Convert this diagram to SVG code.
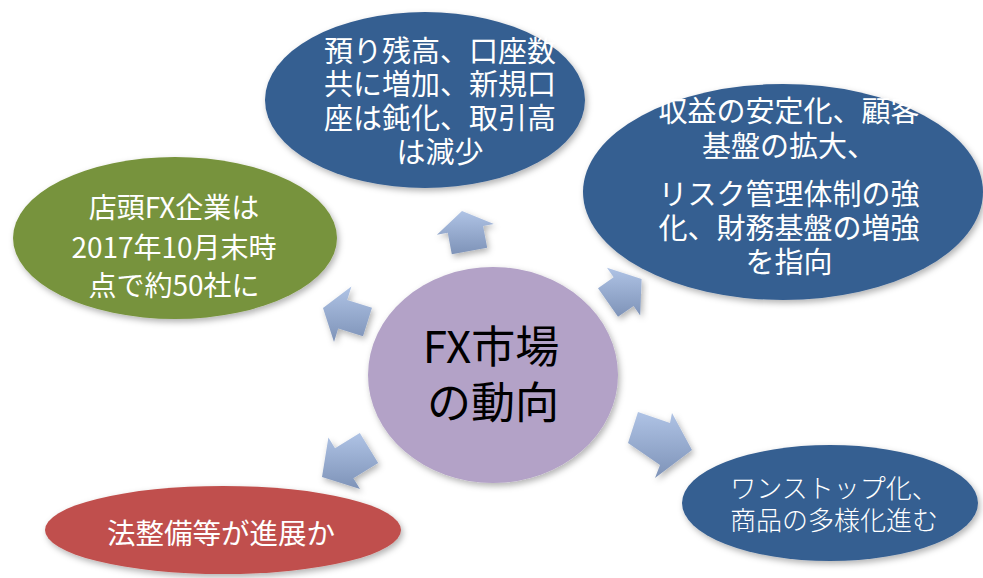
<svg xmlns="http://www.w3.org/2000/svg" width="983" height="578" viewBox="0 0 983 578">
<defs>
<linearGradient id="ag" x1="0" y1="0" x2="0" y2="1">
<stop offset="0" stop-color="#AFC3E5"/>
<stop offset="1" stop-color="#7E93B8"/>
</linearGradient>
<filter id="sh" x="-10%" y="-10%" width="125%" height="130%">
<feDropShadow dx="2" dy="3" stdDeviation="3" flood-color="#000" flood-opacity="0.3"/>
</filter>
<style>
.blue{fill:#365F91;filter:url(#sh)}
.arr{fill:url(#ag);filter:url(#sh)}
.t{font-family:"Noto Sans CJK JP","Noto Sans",sans-serif;fill:#fff;text-anchor:middle}
.c{font-family:"Noto Sans CJK JP","Noto Sans",sans-serif;fill:#000;text-anchor:middle;font-size:44px}
</style>
</defs>
<rect width="983" height="578" fill="#fff"/>
<g id="connectors">
<polygon class="arr" points="451.8,254.3 447.7,232.7 436.9,234.7 462,211 493.9,224.1 483.1,226.1 487.2,247.7"/>
<polygon class="arr" points="598,288.2 613.6,277.3 607,267.8 641.6,279 640.2,315.4 633.6,305.9 618,316.8"/>
<polygon class="arr" points="638,412 670,423 672,413 692,450 655,478 660,465 628,443"/>
<polygon class="arr" points="359.8,433 335,448.3 328.4,437.6 322,477 360,489 353.4,478.3 378.2,463"/>
<polygon class="arr" points="372,307.7 347.2,299.9 351.4,286.5 323,308 334,341.9 338.2,328.5 363,336.3"/>
</g>
<g id="center">
<ellipse cx="493" cy="375" rx="125" ry="108" fill="#B3A2C7" filter="url(#sh)"/>
<text class="c"><tspan x="491" y="363">FX市場</tspan><tspan x="493" y="419">の動向</tspan></text>
</g>
<g id="top">
<ellipse class="blue" cx="425" cy="100" rx="160" ry="88"/>
<text class="t" font-size="29"><tspan x="440" y="62">預り残高、口座数</tspan><tspan x="440" y="95">共に増加、新規口</tspan><tspan x="440" y="129">座は鈍化、取引高</tspan><tspan x="440" y="163">は減少</tspan></text>
</g>
<g id="right">
<ellipse class="blue" cx="783" cy="192" rx="200" ry="108"/>
<text class="t" font-size="29"><tspan x="789" y="122">収益の安定化、顧客</tspan><tspan x="789" y="157">基盤の拡大、</tspan></text>
<text class="t" font-size="29"><tspan x="789" y="205">リスク管理体制の強</tspan><tspan x="789" y="239">化、財務基盤の増強</tspan><tspan x="789" y="273">を指向</tspan></text>
</g>
<g id="bottomright">
<ellipse class="blue" cx="830" cy="503" rx="148" ry="58"/>
<text class="t" font-size="26" font-weight="300"><tspan x="834" y="498">ワンストップ化、</tspan><tspan x="834" y="530">商品の多様化進む</tspan></text>
</g>
<g id="left">
<ellipse cx="175" cy="238" rx="162" ry="81" fill="#77933C" filter="url(#sh)"/>
<text class="t" font-size="28"><tspan x="174" y="218">店頭FX企業は</tspan><tspan x="174" y="258">2017年10月末時</tspan><tspan x="174" y="296">点で約50社に</tspan></text>
</g>
<g id="bottomleft">
<ellipse cx="223" cy="530" rx="178" ry="44" fill="#C0504D" filter="url(#sh)"/>
<text class="t" font-size="28.5" x="221" y="544">法整備等が進展か</text>
</g>
</svg>
